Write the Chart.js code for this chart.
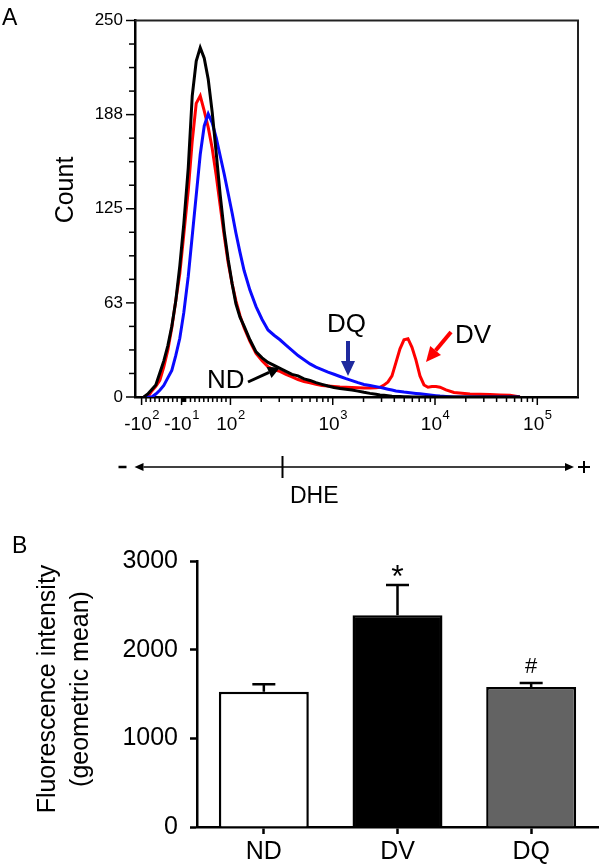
<!DOCTYPE html>
<html>
<head>
<meta charset="utf-8">
<script src="https://cdn.jsdelivr.net/npm/chart.js@4/dist/chart.umd.min.js"></script>
<style>
  html, body { margin: 0; padding: 0; background: #fff; }
  #wrap { position: relative; width: 600px; height: 864px; }
  canvas { position: absolute; left: 0; }
  #histo { top: 0; }
  #bars { top: 520px; }
</style>
</head>
<body>
<div id="wrap">
  <canvas id="histo" width="600" height="520"></canvas>
  <canvas id="bars" width="600" height="344"></canvas>
</div>
<script>
// Panel A: DHE histogram (bin centre intensity -> cell count)
const dheBins = [-95, -86, -77, -68, -59, -50, -41, -32, -23, -14, -5, 5, 14, 23, 32, 41, 50, 59, 68, 77, 86, 95,
  104, 113, 124, 136, 155, 178, 204, 233, 267, 305, 349, 400, 458, 524, 600, 686, 786, 899, 1029, 1178, 1348,
  1543, 1766, 2021, 2314, 2649, 2899, 3171, 3470, 3796, 4154, 4545, 4973, 5441, 5954, 6516, 7130, 7802, 8538,
  9342, 10221, 11183, 12800, 15327, 18346, 21969, 27519, 34460, 43157, 54060, 67700];
const countND = [0, 2, 5, 8, 16, 24, 34, 47, 64, 87, 115, 152, 200, 223, 232, 225, 211, 189, 162, 134, 110, 91,
  75, 62, 53, 47, 38, 30, 26, 23, 21, 19, 17, 15, 14, 12, 11, 9.5, 8.4, 7.3, 6.3, 5.7, 5.2, 4.6, 3.9, 3.1, 2.4,
  1.8, 1.4, 1.1, 0.8, 0.5, 0.4, 0.3, 0.2, 0.1, 0, 0, 0, 0, 0, 0, 0, 0, 0, 0, 0, 0, 0, 0, 0, 0, 0];
const countDV = [0, 0, 4, 7, 11, 20, 31, 46, 64, 82, 108, 137, 170, 195, 200, 190, 179, 165, 147, 127, 107, 89,
  75, 64, 54, 46, 37, 29, 24, 20, 18, 17, 15, 13.4, 11.6, 10.3, 9.4, 8.4, 7.6, 7.3, 7, 6.7, 6.5, 6.3, 6.1, 5.9,
  5.9, 6.2, 6.4, 7.9, 10, 14, 23, 32, 38, 38.7, 33, 24.5, 14, 8, 6.5, 7, 7, 6.5, 4.7, 3, 2.5, 2, 1.8, 1.6, 1.4,
  1.2, 0];
const countDQ = [0, 0, 0, 2, 4.5, 7.7, 12.7, 17.7, 27.6, 39, 56, 80, 107, 134, 161, 180, 188, 182, 172, 160, 148,
  135, 122, 109, 96, 84, 71, 60, 51.5, 44.5, 41, 38, 34.5, 31, 27.5, 24.8, 22, 19.8, 18.2, 16.5, 15.1, 13.6, 12.2,
  10.9, 9.5, 8.3, 7.6, 6.9, 6.4, 5.8, 5.2, 4.6, 4, 3.7, 3.3, 3, 2.7, 2.4, 2.1, 1.8, 1.5, 1.2, 0.9, 0.6, 0.3, 0, 0,
  0, 0, 0, 0, 0, 0];

const countLabels = ['0', '63', '125', '188', '250'];
const dheMajor = [-100, -10, 100, 1000, 10000, 100000];
const dheMajorLabels = [['-10', '2'], ['-10', '1'], ['10', '2'], ['10', '3'], ['10', '4'], ['10', '5']];
const dheMinor = [-90, -80, -70, -60, -50, -40, -30, -20, -9, -8, -7, -6, -5, -4, -3, -2, -1,
  10, 20, 30, 40, 50, 60, 70, 80, 90, 200, 300, 400, 500, 600, 700, 800, 900,
  2000, 3000, 4000, 5000, 6000, 7000, 8000, 9000, 20000, 30000, 40000, 50000, 60000, 70000, 80000, 90000];

// Panel B: geometric mean fluorescence
const groups = ['ND', 'DV', 'DQ'];
const meanFI = [1524, 2389, 1580];
const semFI = [87, 340, 45];
const groupMarks = ['', '*', '#'];

const FONT = "'Liberation Sans', Arial, sans-serif";
Chart.defaults.font.family = FONT;
Chart.defaults.color = '#000';

// biexponential-style display: linear around zero, log above |100|
const LN10 = Math.log(10);
const LIN = 100;
function biex(v) {
  const a = Math.abs(v);
  const t = a <= LIN ? a / (LIN * LN10) : Math.log10(a / LIN) + 1 / LN10;
  return v < 0 ? -t : t;
}
function biexInv(t) {
  const a = Math.abs(t);
  const v = a <= 1 / LN10 ? a * LIN * LN10 : LIN * Math.pow(10, a - 1 / LN10);
  return t < 0 ? -v : v;
}

class BiexScale extends Chart.LinearScale {
  determineDataLimits() {
    this.min = this.options.min;
    this.max = this.options.max;
  }
  buildTicks() {
    return dheMajor.map(v => ({ value: v, major: true }))
      .concat(dheMinor.map(v => ({ value: v })))
      .sort((a, b) => a.value - b.value);
  }
  configure() {
    super.configure();
    this._t0 = biex(this.min);
    this._t1 = biex(this.max);
  }
  getPixelForValue(v) {
    return this.getPixelForDecimal((biex(v) - this._t0) / (this._t1 - this._t0));
  }
  getValueForPixel(p) {
    return biexInv(this._t0 + this.getDecimalForPixel(p) * (this._t1 - this._t0));
  }
}
BiexScale.id = 'biex';
Chart.register(BiexScale);

function arrow(ctx, x1, y1, x2, y2, color, width, headLen, headHalf) {
  const ang = Math.atan2(y2 - y1, x2 - x1);
  const bx = x2 - headLen * Math.cos(ang), by = y2 - headLen * Math.sin(ang);
  ctx.strokeStyle = color; ctx.fillStyle = color; ctx.lineWidth = width;
  ctx.beginPath(); ctx.moveTo(x1, y1); ctx.lineTo(bx, by); ctx.stroke();
  ctx.beginPath();
  ctx.moveTo(x2, y2);
  ctx.lineTo(bx + headHalf * Math.sin(ang), by - headHalf * Math.cos(ang));
  ctx.lineTo(bx - headHalf * Math.sin(ang), by + headHalf * Math.cos(ang));
  ctx.closePath(); ctx.fill();
}

function text(ctx, str, x, y, size, align, rot) {
  ctx.save();
  ctx.font = size + 'px ' + FONT;
  ctx.fillStyle = '#000';
  ctx.textAlign = align || 'left';
  ctx.textBaseline = 'alphabetic';
  ctx.translate(x, y);
  if (rot) { ctx.rotate(rot); ctx.textBaseline = 'middle'; }
  ctx.fillText(str, 0, 0);
  ctx.restore();
}

const histoDecor = {
  id: 'histoDecor',
  afterDraw(chart) {
    const { ctx, chartArea: a, scales: { x, y } } = chart;
    ctx.save();
    // frame top / right
    ctx.strokeStyle = '#222'; ctx.lineWidth = 2;
    ctx.beginPath(); ctx.moveTo(a.left, a.top); ctx.lineTo(a.right, a.top); ctx.lineTo(a.right, a.bottom); ctx.stroke();
    // tick marks
    ctx.strokeStyle = '#000'; ctx.lineWidth = 1.5;
    x.ticks.forEach(t => {
      const px = x.getPixelForValue(t.value);
      ctx.beginPath(); ctx.moveTo(px, a.bottom); ctx.lineTo(px, a.bottom + (t.major ? 8 : 5)); ctx.stroke();
    });
    y.ticks.forEach((t, i) => {
      const py = y.getPixelForValue(t.value);
      ctx.beginPath(); ctx.moveTo(a.left, py); ctx.lineTo(a.left - (i % 4 === 0 ? 9 : 6), py); ctx.stroke();
    });
    // x tick labels with exponents
    dheMajor.forEach((v, i) => {
      const [base, exp] = dheMajorLabels[i];
      ctx.font = '19px ' + FONT; const wb = ctx.measureText(base).width;
      ctx.font = '13px ' + FONT; const we = ctx.measureText(exp).width;
      const x0 = x.getPixelForValue(v) - (wb + we) / 2;
      text(ctx, base, x0, 430, 19);
      text(ctx, exp, x0 + wb + 0.5, 419, 13);
    });
    // titles
    text(ctx, 'A', 2, 25, 23);
    text(ctx, 'Count', 66, 190, 25, 'center', -Math.PI / 2);
    // curve annotations
    text(ctx, 'ND', 207, 388, 26);
    arrow(ctx, 248, 382, 280, 367.5, '#000', 3, 12, 6);
    text(ctx, 'DQ', 327, 332, 26);
    arrow(ctx, 348, 341, 348, 376, '#1f2a9e', 4, 15, 7);
    text(ctx, 'DV', 455, 343, 26);
    arrow(ctx, 451, 332, 426, 362, '#ff0000', 4, 15, 7);
    // DHE scale arrow
    arrow(ctx, 282, 467, 134.5, 467, '#000', 1.5, 9, 4);
    arrow(ctx, 282, 467, 574, 467, '#000', 1.5, 9, 4);
    ctx.lineWidth = 2; ctx.beginPath(); ctx.moveTo(282.5, 456); ctx.lineTo(282.5, 478); ctx.stroke();
    ctx.lineWidth = 2.5; ctx.beginPath(); ctx.moveTo(118.5, 467); ctx.lineTo(126.5, 467); ctx.stroke();
    ctx.lineWidth = 2; ctx.beginPath();
    ctx.moveTo(578, 467); ctx.lineTo(590, 467); ctx.moveTo(584, 461); ctx.lineTo(584, 473); ctx.stroke();
    text(ctx, 'DHE', 290, 503, 23);
    ctx.restore();
  }
};

new Chart(document.getElementById('histo'), {
  type: 'line',
  data: {
    datasets: [
      { label: 'ND', data: dheBins.map((v, i) => ({ x: v, y: countND[i] })), borderColor: '#000000', order: 0 },
      { label: 'DQ', data: dheBins.map((v, i) => ({ x: v, y: countDQ[i] })), borderColor: '#0a0aff', order: 1 },
      { label: 'DV', data: dheBins.map((v, i) => ({ x: v, y: countDV[i] })), borderColor: '#ff0000', order: 2 }
    ]
  },
  options: {
    responsive: false,
    animation: false,
    layout: { padding: { top: 9, right: 22, left: 0, bottom: 0 } },
    elements: { point: { radius: 0 }, line: { borderWidth: 3, tension: 0 } },
    plugins: { legend: { display: false }, tooltip: { enabled: false } },
    scales: {
      x: {
        type: 'biex',
        min: -116,
        max: 250000,
        grid: { display: false, drawTicks: false },
        border: { display: true, color: '#000', width: 2.5 },
        ticks: { display: false, autoSkip: false, callback: () => '' },
        afterFit: s => { s.height = 123; }
      },
      y: {
        min: 0,
        max: 250,
        afterBuildTicks: s => { s.ticks = Array.from({ length: 17 }, (_, i) => ({ value: i * 250 / 16 })); },
        grid: { display: false, drawTicks: false },
        border: { display: true, color: '#000', width: 2.5 },
        ticks: {
          autoSkip: false, padding: 12, color: '#000',
          font: { size: 17, lineHeight: 1 },
          callback: (v, i) => (i % 4 === 0 ? countLabels[i / 4] : '')
        },
        afterFit: s => { s.width = 135; }
      }
    }
  },
  plugins: [histoDecor]
});

const barsDecor = {
  id: 'barsDecor',
  afterDatasetsDraw(chart) {
    const { ctx, scales: { x, y } } = chart;
    ctx.save();
    ctx.strokeStyle = '#000'; ctx.lineWidth = 2.5;
    meanFI.forEach((m, i) => {
      const cx = x.getPixelForValue(i);
      const top = y.getPixelForValue(m + semFI[i]);
      ctx.beginPath();
      ctx.moveTo(cx, y.getPixelForValue(m)); ctx.lineTo(cx, top);
      ctx.moveTo(cx - 11.5, top); ctx.lineTo(cx + 11.5, top);
      ctx.stroke();
      if (groupMarks[i] === '*') text(ctx, '*', cx, top + 2, 32, 'center');
      if (groupMarks[i] === '#') text(ctx, '#', cx, top - 10, 22, 'center');
    });
    ctx.restore();
  },
  afterDraw(chart) {
    const { ctx } = chart;
    text(ctx, 'B', 12, 33, 23);
    text(ctx, 'Fluorescence intensity', 48, 169, 25, 'center', -Math.PI / 2);
    text(ctx, '(geometric mean)', 81, 169, 25, 'center', -Math.PI / 2);
  }
};

new Chart(document.getElementById('bars'), {
  type: 'bar',
  data: {
    labels: groups,
    datasets: [{
      data: meanFI,
      backgroundColor: ['#ffffff', '#000000', '#636363'],
      borderColor: '#000',
      borderWidth: 2.5,
      barPercentage: 0.673,
      categoryPercentage: 1
    }]
  },
  options: {
    responsive: false,
    animation: false,
    layout: { padding: { top: 41, right: 2, left: 0, bottom: 0 } },
    plugins: { legend: { display: false }, tooltip: { enabled: false } },
    scales: {
      x: {
        grid: { display: true, drawOnChartArea: false, offset: false, tickLength: 7, tickWidth: 2.5, tickColor: '#000' },
        border: { display: true, color: '#000', width: 2.5 },
        ticks: { color: '#000', font: { size: 25 }, padding: 3 },
        afterFit: s => { s.height = 37; }
      },
      y: {
        min: 0,
        max: 3000,
        grid: { display: true, drawOnChartArea: false, tickLength: 7, tickWidth: 2.5, tickColor: '#000' },
        border: { display: true, color: '#000', width: 2.5 },
        ticks: { stepSize: 1000, color: '#000', font: { size: 25, lineHeight: 1 }, padding: 12, callback: v => String(v) },
        afterFit: s => { s.width = 197; }
      }
    }
  },
  plugins: [barsDecor]
});
</script>
</body>
</html>
